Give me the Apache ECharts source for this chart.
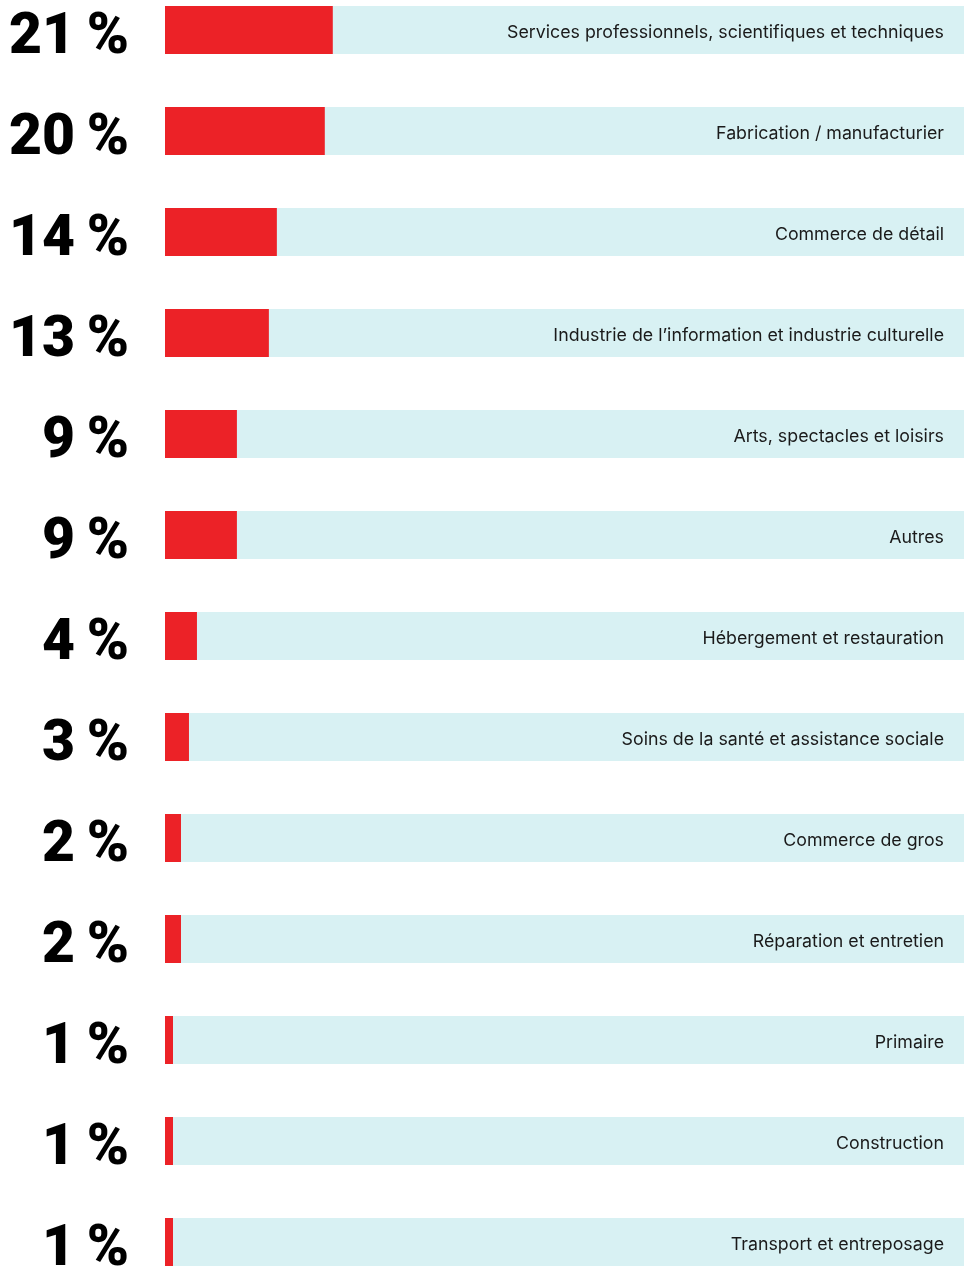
<!DOCTYPE html>
<html><head><meta charset="utf-8">
<script src="https://cdn.jsdelivr.net/npm/echarts@6/dist/echarts.min.js"></script>
<style>html,body{margin:0;padding:0;background:#fff}#c{width:968px;height:1268px}</style>
</head><body><div id="c"></div>
<script>
const categories = ["Services professionnels, scientifiques et techniques","Fabrication / manufacturier","Commerce de détail","Industrie de l’information et industrie culturelle","Arts, spectacles et loisirs","Autres","Hébergement et restauration","Soins de la santé et assistance sociale","Commerce de gros","Réparation et entretien","Primaire","Construction","Transport et entreposage"];
const values = [21,20,14,13,9,9,4,3,2,2,1,1,1];
const chart = echarts.init(document.getElementById('c'));
chart.setOption({
  animation:false,
  grid:{left:165,right:4,top:30,bottom:26,containLabel:false,outerBoundsMode:'none'},
  xAxis:{type:'value',min:0,max:100,show:false},
  yAxis:[
    {type:'category',data:categories,inverse:true,boundaryGap:false,z:10,
     axisLine:{show:false},axisTick:{show:false},splitLine:{show:false},
     axisLabel:{margin:36,fontFamily:'Roboto',fontWeight:900,fontSize:57,color:'#000',
       formatter:(v,i)=>values[i]+'\u2009%',verticalAlign:'top',lineHeight:18}},
    {type:'category',data:categories,inverse:true,boundaryGap:false,position:'right',z:10,
     axisLine:{show:false},axisTick:{show:false},splitLine:{show:false},
     axisLabel:{inside:true,margin:20,fontFamily:'Inter',fontSize:17.8,color:'#1a1a1a',verticalAlign:'top',lineHeight:6}}
  ],
  series:[{type:'bar',data:values,barWidth:48,yAxisIndex:0,
    itemStyle:{color:'#ec2227'},
    showBackground:true,backgroundStyle:{color:'#d8f1f3'}}]
});
</script></body></html>
